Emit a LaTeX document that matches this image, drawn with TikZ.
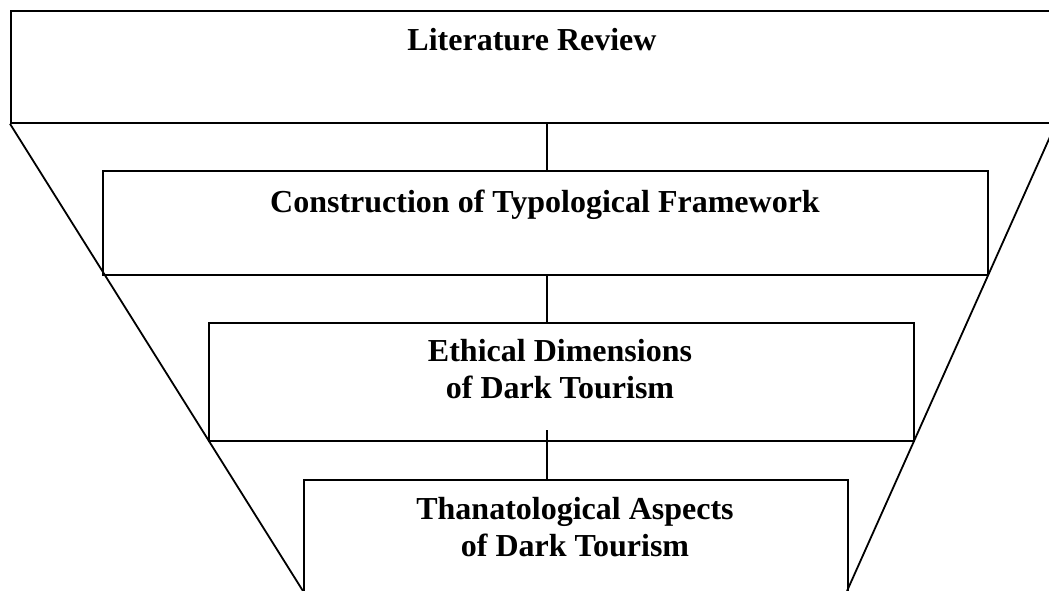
\documentclass[tikz,border=0pt]{standalone}
\usepackage{fontspec}
\setmainfont{Liberation Serif}
\begin{document}
\begin{tikzpicture}[x=1pt,y=-1pt,
  stage/.style={draw=black, line width=1.8pt, inner sep=0pt, anchor=north west},
  caption/.style={font=\fontsize{32}{36.7}\selectfont\bfseries, align=center, anchor=base, inner sep=0pt},
  link/.style={line width=1.8pt}]
  \useasboundingbox (0,0) rectangle (1049,591);
  \clip (0,0) rectangle (1049,591);

  % stages of the funnel, widest on top
  \node[stage, minimum width=1044pt, minimum height=112pt] (b1) at (10,10) {};
  \node[stage, minimum width=885pt,  minimum height=104pt] (b2) at (102,170) {};
  \node[stage, minimum width=705pt,  minimum height=118pt] (b3) at (208,322) {};
  \node[stage, minimum width=544pt,  minimum height=140pt] (b4) at (303,479) {};

  % stage captions (base anchor sits on the last line)
  \node[caption] (t1) at (532,51)  {Literature Review};
  \node[caption] (t2) at (545,212) {Construction of Typological Framework};
  \node[caption] (t3) at (560,398) {Ethical Dimensions\\of Dark Tourism};
  \node[caption] (t4) at (575,556) {Thanatological Aspects\\of Dark Tourism};

  % funnel sides
  \coordinate (fl) at (303,591);
  \coordinate (fr) at (847,591);
  \draw[link] (b1.south west) -- (fl);
  \draw[link] (b1.south east) -- (fr);

  % vertical links between stages
  \coordinate (axis) at (547,0);
  \coordinate (s3) at (547,430);
  \draw[link] (b1.south -| axis) -- (b2.north -| axis);
  \draw[link] (b2.south -| axis) -- (b3.north -| axis);
  \draw[link] (s3) -- (b4.north -| axis);
\end{tikzpicture}
\end{document}
